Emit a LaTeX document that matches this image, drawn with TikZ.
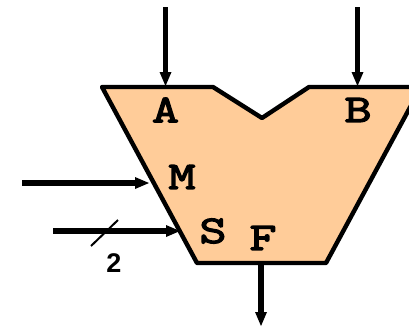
\documentclass[tikz,border=0pt]{standalone}
\usepackage{fontspec}
\newfontfamily\portfont[FakeBold=3.5,FakeStretch=1.35]{Latin Modern Mono}
\setsansfont{Liberation Sans}
\usetikzlibrary{arrows.meta}
\tikzset{
  alu/.style={fill=aluorange,draw=black,line width=4.4pt,line join=round},
  sig/.style={draw=black,line width=5.4pt,-{Triangle[length=14pt,width=12pt,line width=0pt,sep=0pt]}},
  port/.style={font=\fontsize{39}{39}\selectfont\portfont,inner sep=0pt,text=black},
  slash/.style={draw=black,line width=2pt},
  width/.style={font=\fontsize{27}{27}\selectfont\sffamily\bfseries,inner sep=0pt,text=black}
}
\definecolor{aluorange}{HTML}{FFCC99}
\begin{document}
\begin{tikzpicture}[x=1pt,y=-1pt]
\useasboundingbox (0,0) rectangle (409,327);
\clip (0,0) rectangle (409,327);
\draw[alu] (102,87) -- (213,87) -- (262,118) -- (309,87) -- (421,87) -- (326,263) -- (197,263) -- cycle;
\coordinate (ain) at (165.5,7);   \coordinate (aend) at (165.5,86);
\coordinate (bin) at (357.5,7);   \coordinate (bend) at (357.5,86);
\coordinate (min) at (22,183);    \coordinate (mend) at (149,183);
\coordinate (sin) at (53,231);    \coordinate (send) at (180,231);
\coordinate (fout) at (261,265);  \coordinate (fend) at (261,326);
\coordinate (sla) at (91,246);    \coordinate (slb) at (118,220);
\draw[sig] (ain) -- (aend);
\draw[sig] (bin) -- (bend);
\draw[sig] (min) -- (mend);
\draw[sig] (sin) -- (send);
\draw[sig] (fout) -- (fend);
\draw[slash] (sla) -- (slb);
\node[port] (A) at (165.5,110) {A};
\node[port] (B) at (358,110) {B};
\node[port] (M) at (182,177) {M};
\node[port] (S) at (213,231) {S};
\node[port] (F) at (263,238) {F};
\node[width] (two) at (114,263) {2};
\end{tikzpicture}
\end{document}
